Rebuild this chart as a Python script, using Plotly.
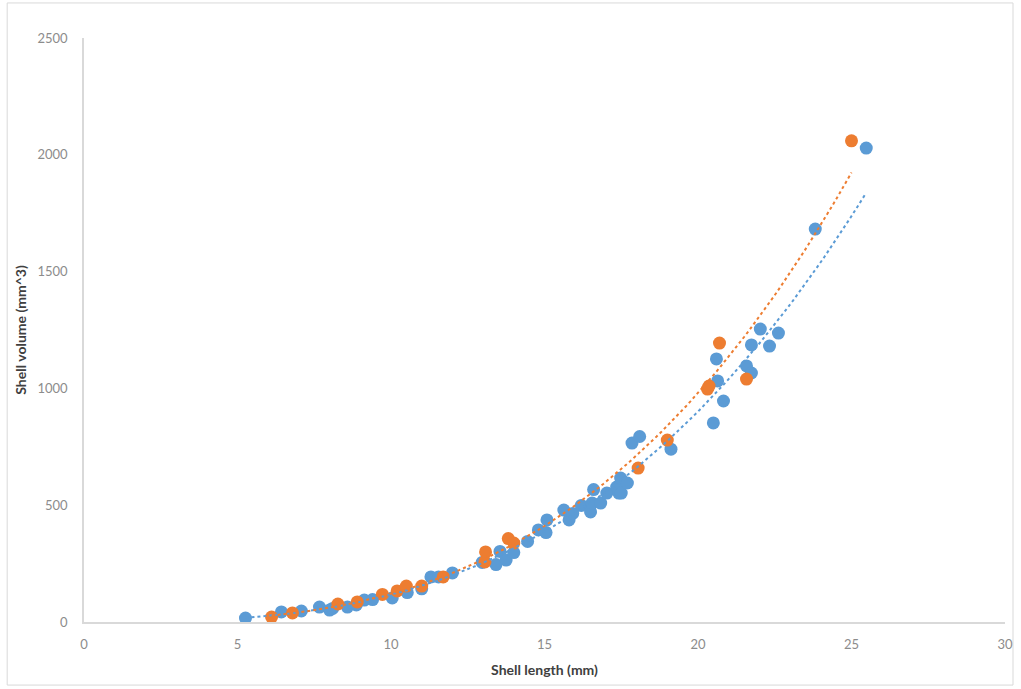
import numpy as np
import plotly.graph_objects as go

# Shell length (mm) and shell volume (mm^3), two groups
blue_length = [5.26, 6.43, 7.08, 7.67, 8.0, 8.1, 8.58, 8.87, 9.13, 9.4,
               10.04, 10.53, 11.0, 11.3, 11.55, 12.0, 12.97, 13.42, 13.55, 13.75,
               14.0, 14.45, 14.8, 15.05, 15.08, 15.63, 15.8, 15.92, 16.2, 16.5,
               16.55, 16.6, 16.83, 17.03, 17.35, 17.42, 17.48, 17.5, 17.7, 17.85,
               18.1, 19.12, 20.5, 20.6, 20.64, 20.83, 21.58, 21.74, 21.74, 22.03,
               22.33, 22.62, 23.82, 25.48]
blue_volume = [17, 43, 47, 64, 51, 58, 64, 73, 94, 96,
               103, 126, 142, 193, 193, 210, 255, 246, 302, 265,
               297, 345, 394, 383, 437, 479, 437, 465, 499, 471,
               509, 567, 509, 552, 578, 552, 616, 552, 595, 766,
               794, 740, 852, 1126, 1032, 946, 1096, 1066, 1186, 1254,
               1181, 1237, 1682, 2029]

orange_length = [6.11, 6.79, 8.27, 8.9, 9.72, 10.2, 10.5, 11.0, 11.7, 13.08,
                 13.06, 13.82, 14.0, 18.05, 19.0, 20.31, 20.36, 20.7, 21.58, 25.0]
orange_volume = [21, 39, 77, 86, 118, 133, 154, 154, 193, 300,
                 257, 357, 338, 659, 779, 997, 1010, 1194, 1040, 2060]

x_ticks = [0, 5, 10, 15, 20, 25, 30]
y_ticks = [0, 500, 1000, 1500, 2000, 2500]

BLUE = "#5B9BD5"
ORANGE = "#ED7D31"


def power_trend(xs, ys, n=120):
    """Least-squares power trendline y = a * x^b fitted in log space."""
    lx, ly = np.log(xs), np.log(ys)
    b, ln_a = np.polyfit(lx, ly, 1)
    xf = np.linspace(min(xs), max(xs), n)
    return xf, np.exp(ln_a) * xf ** b


fig = go.Figure()

for xs, ys, col in [(blue_length, blue_volume, BLUE),
                    (orange_length, orange_volume, ORANGE)]:
    fig.add_trace(go.Scatter(
        x=xs, y=ys, mode="markers",
        marker=dict(color=col, size=13, line=dict(width=0)),
        showlegend=False, hoverinfo="x+y"))

for xs, ys, col in [(blue_length, blue_volume, BLUE),
                    (orange_length, orange_volume, ORANGE)]:
    xf, yf = power_trend(xs, ys)
    fig.add_trace(go.Scatter(
        x=xf, y=yf, mode="lines",
        line=dict(color=col, width=2, dash="dot"),
        showlegend=False, hoverinfo="skip"))

axis_font = dict(family="Lato, 'Open Sans', sans-serif", size=13, color="#8c8c8c")
title_font = dict(family="Lato, 'Open Sans', sans-serif", size=14, color="#404040")

fig.update_layout(
    width=1021, height=689,
    margin=dict(l=84, r=8, t=38, b=67),
    paper_bgcolor="white", plot_bgcolor="white",
    xaxis=dict(
        range=[0, 30], tickvals=x_ticks, ticktext=[str(v) for v in x_ticks],
        showgrid=False, zeroline=False,
        showline=True, linecolor="#d9d9d9", linewidth=1.5,
        ticks="", tickfont=axis_font, ticklabelstandoff=10,
        title=dict(text="<b>Shell length (mm)</b>", font=title_font, standoff=14),
    ),
    yaxis=dict(
        range=[0, 2500], tickvals=y_ticks, ticktext=[str(v) for v in y_ticks],
        showgrid=False, zeroline=False,
        showline=True, linecolor="#d9d9d9", linewidth=1.5,
        ticks="", tickfont=axis_font, ticklabelstandoff=12,
        title=dict(text="<b>Shell volume (mm^3)</b>", font=title_font, standoff=8),
    ),
    shapes=[dict(type="rect", xref="paper", yref="paper",
                 x0=-0.0834, x1=1.0087, y0=-0.108, y1=1.06,
                 line=dict(color="#d9d9d9", width=1), fillcolor="rgba(0,0,0,0)",
                 layer="below")],
)

fig.write_html("out.html")
